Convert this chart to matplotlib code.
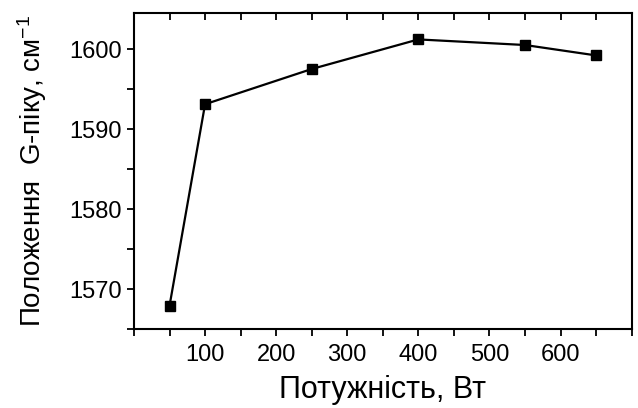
import matplotlib
matplotlib.use("Agg")
import matplotlib.pyplot as plt
from matplotlib.ticker import MultipleLocator

plt.rcParams['font.family'] = ['Liberation Sans', 'DejaVu Sans']
plt.rcParams['mathtext.fontset'] = 'custom'
plt.rcParams['mathtext.rm'] = 'Liberation Sans'
plt.rcParams['mathtext.it'] = 'Liberation Sans'

power = [50, 100, 250, 400, 550, 650]
g_peak = [1567.9, 1593.1, 1597.5, 1601.2, 1600.5, 1599.2]

fig = plt.figure(figsize=(6.38, 4.08), dpi=100)
ax = fig.add_axes([0.210, 0.1936, 0.780, 0.7745])

ax.plot(power, g_peak, color='black', lw=1.6, marker='s', ms=6.8,
        markerfacecolor='black', markeredgecolor='black')

ax.set_xlim(0, 700)
ax.set_ylim(1565, 1604.5)
ax.xaxis.set_major_locator(MultipleLocator(100))
ax.xaxis.set_minor_locator(MultipleLocator(50))
ax.yaxis.set_major_locator(MultipleLocator(10))
ax.yaxis.set_minor_locator(MultipleLocator(5))
ax.set_xticks([100, 200, 300, 400, 500, 600])

for sp in ax.spines.values():
    sp.set_linewidth(1.5)

ax.tick_params(axis='both', which='both', width=1.3, labelsize=17, colors='black')
ax.tick_params(axis='x', which='both', direction='out', length=5, top=False, pad=6)
ax.tick_params(axis='y', which='both', direction='out', length=5, right=False, pad=4)

# mirrored inward ticks along the top edge
top = ax.secondary_xaxis('top')
top.xaxis.set_major_locator(MultipleLocator(50))
top.tick_params(direction='in', length=5, width=1.3, labeltop=False)
top.spines['top'].set_visible(False)

ax.set_xlabel('Потужність, Вт', fontsize=22, labelpad=6)
ax.set_ylabel('Положення  G-піку, см$^{-1}$', fontsize=20, labelpad=14)

fig.savefig('out.png', dpi=100)
